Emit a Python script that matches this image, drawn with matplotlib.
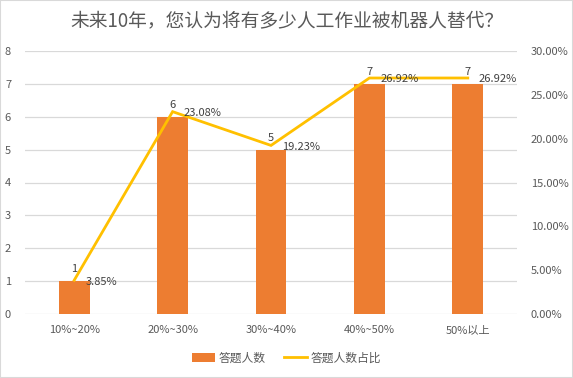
import matplotlib.pyplot as plt
from matplotlib.patches import Rectangle

plt.rcParams['font.family'] = ['Noto Sans CJK SC', 'DejaVu Sans']

# data
categories = ['10%~20%', '20%~30%', '30%~40%', '40%~50%', '50%以上']
counts = [1, 6, 5, 7, 7]
shares = [3.85, 23.08, 19.23, 26.92, 26.92]
share_labels = ['3.85%', '23.08%', '19.23%', '26.92%', '26.92%']

bar_color = '#ED7D31'
line_color = '#FFC000'
text_color = '#404040'
tick_color = '#595959'
grid_color = '#D9D9D9'

W, H = 573, 378
fig = plt.figure(figsize=(W / 100, H / 100), dpi=100)
# plot area in pixels: x 25..517, y 51..314
ax = fig.add_axes([25 / W, 1 - 314 / H, (517 - 25) / W, (314 - 51) / H])
ax2 = ax.twinx()

x = list(range(len(categories)))
bars = ax.bar(x, counts, width=0.315, color=bar_color, zorder=2)
ln, = ax2.plot(x, shares, color=line_color, lw=2.0, zorder=3,
               solid_joinstyle='miter')

ax.set_xlim(-0.5, len(categories) - 0.5)
ax.set_ylim(0, 8)
ax.set_yticks(range(0, 9))
ax2.set_ylim(0, 30)
ax2.set_yticks(range(0, 31, 5))
ax2.set_yticklabels(['%.2f%%' % v for v in range(0, 31, 5)])

ax.yaxis.grid(True, color=grid_color, lw=0.9, zorder=0)
ax.set_axisbelow(True)
for a in (ax, ax2):
    for s in a.spines.values():
        s.set_visible(False)
    a.tick_params(length=0, labelsize=8, colors=tick_color)
ax.tick_params(axis='y', pad=10)
ax2.tick_params(axis='y', pad=10)
ax.tick_params(axis='x', pad=8)
ax.set_xticks(x)
ax.set_xticklabels(categories)

ax2.set_zorder(ax.get_zorder() + 1)
ax2.patch.set_visible(False)

for xi, c in zip(x, counts):
    ax.annotate(str(c), (xi, c), xytext=(0, 5), textcoords='offset points',
                ha='center', va='bottom', fontsize=8, color=text_color)
for xi, s, lab in zip(x, shares, share_labels):
    ax2.annotate(lab, (xi, s), xytext=(8, -1), textcoords='offset points',
                 ha='left', va='center', fontsize=8, color=text_color)

fig.text(0.5, 1 - 22 / H, '未来10年，您认为将有多少人工作业被机器人替代？',
         ha='center', va='center', fontsize=13.5, color=tick_color)

fig.legend([bars, ln], ['答题人数', '答题人数占比'], loc='center',
           bbox_to_anchor=(0.5, 1 - 358 / H), ncol=2, frameon=False,
           fontsize=8.5, labelcolor=tick_color, handlelength=2.0,
           columnspacing=1.5, handletextpad=0.3)

fig.patches.append(Rectangle((0, 0), 1, 1, transform=fig.transFigure,
                             fill=False, edgecolor=grid_color, lw=1.5))

fig.savefig('out.png', dpi=100)
